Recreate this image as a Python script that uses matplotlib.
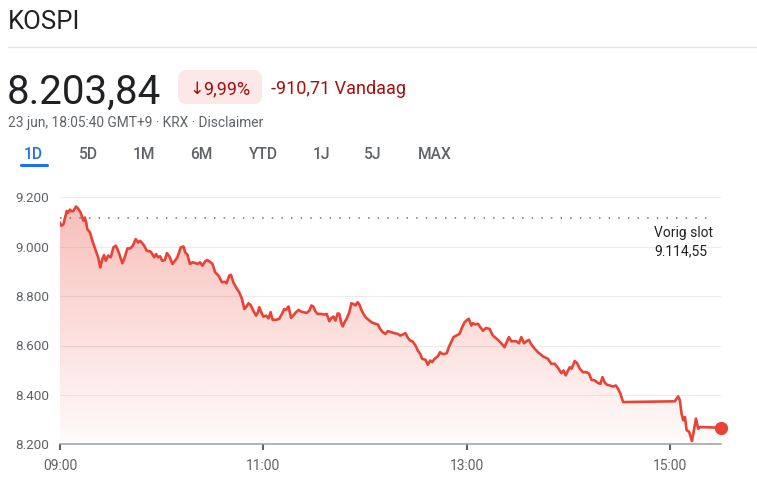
import numpy as np
import matplotlib
matplotlib.use("Agg")
import matplotlib.pyplot as plt
from matplotlib.patches import FancyBboxPatch
from matplotlib.lines import Line2D

plt.rcParams["font.family"] = ["Roboto", "DejaVu Sans"]

# KOSPI intraday, minutes after 09:00 and index level
minutes = [
    0, 0.8, 2.0, 4.0, 4.9, 5.9, 6.9, 7.9, 9.5, 10.6, 12.2, 13.8, 14.6, 15.4, 16.1,
    17.7, 19.1, 21.1, 22.5, 23.8, 25.0, 26.0, 27.0, 28.4, 30.0, 31.5, 32.9, 33.9,
    35.3, 36.8, 38.2, 39.8, 41.4, 43.0, 44.7, 46.1, 47.3, 48.5, 49.7, 51.2, 53.6,
    55.6, 56.7, 57.9, 59.1, 60.3, 61.9, 63.1, 64.6, 66.4, 67.8, 69.3, 71.3, 72.9,
    73.9, 75.2, 76.7, 78.2, 79.8, 81.2, 82.6, 84.1, 85.7, 86.9, 88.5, 90.0, 91.6,
    93.6, 95.6, 97.1, 98.3, 99.9, 100.9, 102.3, 103.9, 105.8, 107.4, 108.8, 109.8,
    111.3, 112.7, 114.1, 115.7, 116.9, 117.6, 118.8, 120.0, 121.6, 123.1, 124.3,
    125.5, 127.5, 129.4, 131.0, 132.4, 133.4, 134.9, 136.4, 137.7, 139.3, 140.9,
    142.4, 145.6, 147.2, 148.4, 149.5, 150.7, 152.1, 154.1, 156.0, 157.4, 159.0,
    160.2, 161.4, 162.6, 163.9, 164.9, 165.9, 166.9, 167.9, 169.2, 170.8, 172.0,
    173.2, 174.4, 175.7, 176.7, 177.9, 179.1, 180.7, 182.6, 184.2, 186.2, 187.6,
    189.0, 190.5, 192.1, 193.5, 195.5, 197.4, 199.4, 200.8, 202.3, 203.9, 205.3,
    206.7, 208.2, 209.8, 211.2, 212.6, 213.8, 215.8, 217.1, 218.5, 219.7, 221.1,
    223.0, 224.4, 225.6, 227.0, 228.3, 229.5, 230.9, 232.3, 233.9, 235.8, 237.4,
    238.8, 240.4, 241.3, 242.8, 243.7, 245.3, 246.7, 249.6, 251.6, 253.6, 255.5,
    258.5, 260.5, 262.4, 265.0, 266.4, 269.4, 270.9, 272.3, 273.9, 275.3, 276.8,
    278.2, 280.2, 282.1, 285.1, 288.0, 290.0, 292.0, 293.9, 295.9, 297.3, 298.5,
    299.9, 300.9, 302.0, 303.8, 305.2, 306.8, 308.7, 310.7, 312.3, 313.7, 315.6,
    317.6, 319.0, 320.2, 321.4, 322.6, 324.5, 326.5, 328.1, 329.4, 330.8, 332.4,
    362.9, 364.9, 365.9, 366.9, 367.9, 368.9, 369.9, 371.4, 373.0, 374.2, 375.4,
    376.7, 377.7, 390.0,
]
prices = [
    9097, 9085, 9090, 9145, 9138, 9150, 9143, 9145, 9163, 9155, 9138, 9105, 9118, 9101, 9071,
    9058, 9024, 8984, 8957, 8916, 8950, 8966, 8943, 8964, 8957, 8997, 9004, 8991,
    8964, 8933, 8957, 8993, 8993, 9004, 9031, 9017, 9024, 9015, 9004, 8984, 8980,
    8957, 8970, 8957, 8961, 8943, 8946, 8974, 8960, 8930, 8943, 8957, 8997, 9001,
    8977, 8968, 8930, 8937, 8934, 8930, 8937, 8923, 8941, 8946, 8939, 8930, 8896,
    8883, 8856, 8858, 8852, 8883, 8886, 8856, 8836, 8815, 8789, 8748, 8755,
    8771, 8762, 8741, 8721, 8735, 8755, 8735, 8717, 8721, 8710, 8735,
    8704, 8704, 8708, 8728, 8748, 8744, 8758, 8712, 8721, 8735, 8744,
    8737, 8732, 8741, 8762, 8758, 8739, 8728, 8728, 8725, 8728, 8698,
    8712, 8717, 8701, 8730, 8728, 8694, 8677, 8694, 8708, 8735, 8771,
    8768, 8762, 8775, 8766, 8744, 8728, 8712, 8701, 8693, 8688, 8685,
    8667, 8654, 8647, 8658, 8654, 8650, 8647, 8640, 8644, 8650, 8631,
    8620, 8616, 8600, 8580, 8566, 8546, 8542, 8522, 8539, 8533, 8546,
    8556, 8573, 8566, 8566, 8569, 8593, 8613, 8634, 8640, 8647, 8674,
    8694, 8704, 8708, 8681, 8690, 8685, 8688, 8660, 8671, 8667, 8640,
    8623, 8609, 8593, 8634, 8617, 8617, 8609, 8634, 8609, 8617, 8623,
    8604, 8587, 8573, 8556, 8546, 8526, 8526, 8510, 8488, 8499, 8479,
    8499, 8512, 8506, 8537, 8529, 8506, 8492, 8492, 8486, 8461, 8459,
    8448, 8445, 8472, 8452, 8442, 8438, 8434, 8438, 8425, 8405, 8371,
    8374, 8394, 8378, 8324, 8297, 8310, 8257, 8250, 8213, 8257, 8304,
    8263, 8270, 8267,
]
prev_close = 9114.55

y_ticks = [8200, 8400, 8600, 8800, 9000, 9200]
y_labels = ["8.200", "8.400", "8.600", "8.800", "9.000", "9.200"]
x_ticks = [0, 120, 240, 360]
x_labels = ["09:00", "11:00", "13:00", "15:00"]
tabs = ["1D", "5D", "1M", "6M", "YTD", "1J", "5J", "MAX"]
tab_x = [33, 88, 144, 201, 263, 321, 373, 435]

RED = "#ea4335"
DARK_RED = "#a50e0e"
GRAY = "#5f6368"
W, H = 757, 478


def fx(px):
    return px / W


def fy(py):
    return 1 - py / H


fig = plt.figure(figsize=(W / 100, H / 100), dpi=100)
fig.patch.set_facecolor("white")

# header
fig.text(fx(8), fy(29.3), "KOSPI", fontsize=18.5, color="#202124", va="baseline")
fig.add_artist(Line2D([fx(8), 1], [fy(47), fy(47)], color="#e3e3e3", lw=0.9))
fig.text(fx(7), fy(104), "8.203,84", fontsize=29, color="#202124", va="baseline")
badge = FancyBboxPatch((fx(178), fy(104)), fx(84), 34 / H,
                       boxstyle="round,pad=0,rounding_size=0.011",
                       transform=fig.transFigure, facecolor="#fce8e6",
                       edgecolor="none", mutation_aspect=W / H)
fig.add_artist(badge)
fig.text(fx(189), fy(94), "\u2193", fontsize=12.5, color=DARK_RED, va="baseline",
         family=["DejaVu Sans"])
fig.text(fx(203), fy(94), "9,99%", fontsize=13, color=DARK_RED, va="baseline")
fig.text(fx(271), fy(94), "-910,71 Vandaag", fontsize=13, color=DARK_RED, va="baseline")
fig.text(fx(8), fy(127.3), "23 jun, 18:05:40 GMT+9 \u00b7 KRX \u00b7 Disclaimer",
         fontsize=9.9, color=GRAY, va="baseline")

for name, x in zip(tabs, tab_x):
    col = "#1a73e8" if name == "1D" else GRAY
    fig.text(fx(x), fy(159.3), name, fontsize=11.2, color=col, ha="center",
             va="baseline", fontweight="medium")
fig.add_artist(Line2D([fx(21), fx(47)], [fy(165), fy(165)], color="#1a73e8",
                      lw=2.2, solid_capstyle="round"))

# chart
ax = fig.add_axes([fx(60), fy(444.3), 660.7 / W, 247 / H])
ax.set_facecolor("none")

for yv in y_ticks[1:]:
    ax.axhline(yv, color="#ececec", lw=0.8, zorder=0)

top = max(prices)
grad = np.linspace(0, 1, 256).reshape(-1, 1)
rgba = np.zeros((256, 1, 4))
rgba[..., :3] = matplotlib.colors.to_rgb(RED)
rgba[..., 3] = 0.02 + 0.32 * grad[:, 0:1]
im = ax.imshow(rgba, extent=[0, 390, 8200, top], aspect="auto", origin="lower",
               zorder=1, interpolation="bilinear")
area = ax.fill_between(minutes, prices, 8200, color="none", lw=0)
im.set_clip_path(area.get_paths()[0], transform=ax.transData)

ax.plot([0, 386], [prev_close, prev_close], color="#70757a", lw=1.1,
        linestyle=(0, (1, 5.3)), zorder=2)
ax.plot(minutes, prices, color=RED, lw=1.9, zorder=3, solid_joinstyle="round")
ax.plot([minutes[-1]], [prices[-1]], "o", color=RED, markersize=8.5, zorder=4,
        clip_on=False)

fig.text(fx(654), fy(237.3), "Vorig slot", fontsize=10, color="#202124", va="baseline")
fig.text(fx(654), fy(255), "9.114,55", fontsize=10, color="#202124", va="baseline")

ax.set_xlim(0, 390)
ax.set_ylim(8200, 9200)
ax.set_yticks(y_ticks)
ax.set_yticklabels(y_labels)
ax.set_xticks(x_ticks)
ax.set_xticklabels(x_labels)
ax.tick_params(axis="y", length=0, pad=7.5, labelsize=9.7, labelcolor=GRAY)
ax.tick_params(axis="x", length=4.5, width=1.5, color=GRAY, direction="out",
               pad=6, labelsize=10, labelcolor=GRAY)
for s in ["top", "left", "right"]:
    ax.spines[s].set_visible(False)
ax.spines["bottom"].set_color("#9aa0a6")
ax.spines["bottom"].set_linewidth(1.1)

fig.savefig("out.png", dpi=100)
